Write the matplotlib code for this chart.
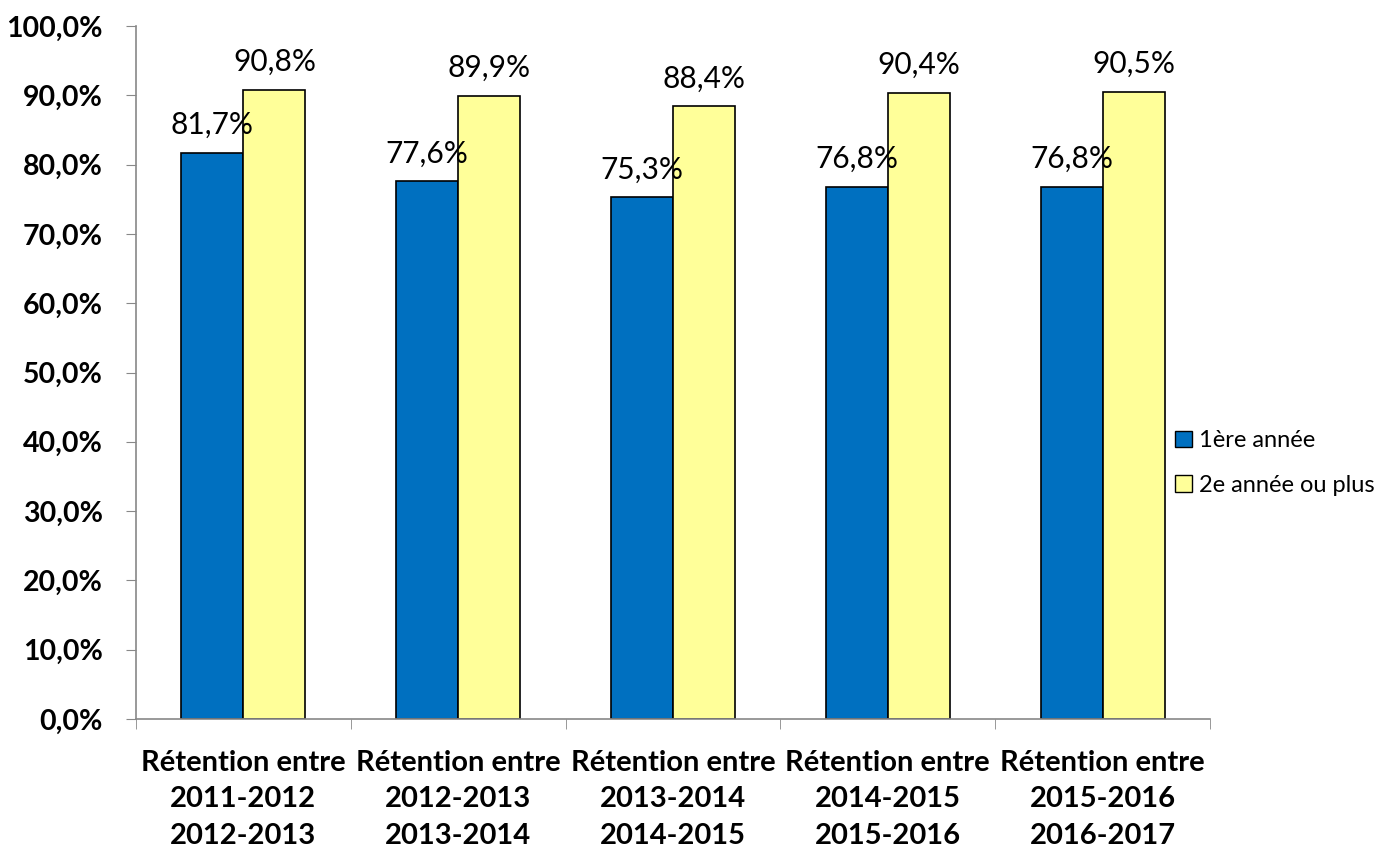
import matplotlib
matplotlib.use("Agg")
import matplotlib.pyplot as plt
import numpy as np
from matplotlib.patches import Patch

categories = ["Rétention entre\n2011-2012\n2012-2013",
              "Rétention entre\n2012-2013\n2013-2014",
              "Rétention entre\n2013-2014\n2014-2015",
              "Rétention entre\n2014-2015\n2015-2016",
              "Rétention entre\n2015-2016\n2016-2017"]
first_year = [81.7, 77.6, 75.3, 76.8, 76.8]
second_year = [90.8, 89.9, 88.4, 90.4, 90.5]
series_names = ["1ère année", "2e année ou plus"]
colors = ["#0070C0", "#FFFF99"]

plt.rcParams['font.family'] = ['Lato', 'DejaVu Sans']

fig = plt.figure(figsize=(13.86, 8.52), dpi=100)
ax = fig.add_axes([136/1386, 1-719/852, (1210-136)/1386, (719-26)/852])

x = np.arange(len(categories))
w = 0.289
b1 = ax.bar(x - w/2, first_year, w, color=colors[0], edgecolor="black", linewidth=1.2)
b2 = ax.bar(x + w/2, second_year, w, color=colors[1], edgecolor="black", linewidth=1.2)

def fmt(v):
    return f"{v:.1f}%".replace(".", ",")

for bars, vals in ((b1, first_year), (b2, second_year)):
    for r, v in zip(bars, vals):
        ax.annotate(fmt(v), (r.get_x() + r.get_width()/2, v), xytext=(0, 10),
                    textcoords="offset points", ha="center", va="bottom", fontsize=21.5)

ax.set_xlim(-0.5, len(categories) - 0.5)
ax.set_ylim(0, 100)
ax.set_yticks(np.arange(0, 101, 10))
ax.set_yticklabels([fmt(v) for v in np.arange(0, 101, 10)], fontsize=20.5, fontweight="bold")
ax.set_xticks(x)
ax.set_xticklabels(categories, fontsize=21, fontweight="bold", linespacing=1.5)
ax.set_xticks(np.arange(-0.5, len(categories)), minor=True)
ax.tick_params(axis="x", which="major", length=0, pad=22)
ax.tick_params(axis="x", which="minor", length=7, color="#888888", direction="out")
ax.tick_params(axis="y", length=7, color="#888888", pad=17)
for s in ("top", "right"):
    ax.spines[s].set_visible(False)
for s in ("left", "bottom"):
    ax.spines[s].set_color("#888888")
    ax.spines[s].set_linewidth(1.2)

handles = [Patch(facecolor=c, edgecolor="black", label=n) for c, n in zip(colors, series_names)]
fig.legend(handles=handles, loc="center left", bbox_to_anchor=(1168/1386, 1-463/852),
           frameon=False, fontsize=17, handlelength=0.7, handleheight=0.7,
           handletextpad=0.3, labelspacing=1.0, borderaxespad=0, borderpad=0.3)

fig.savefig("out.png", dpi=100)
